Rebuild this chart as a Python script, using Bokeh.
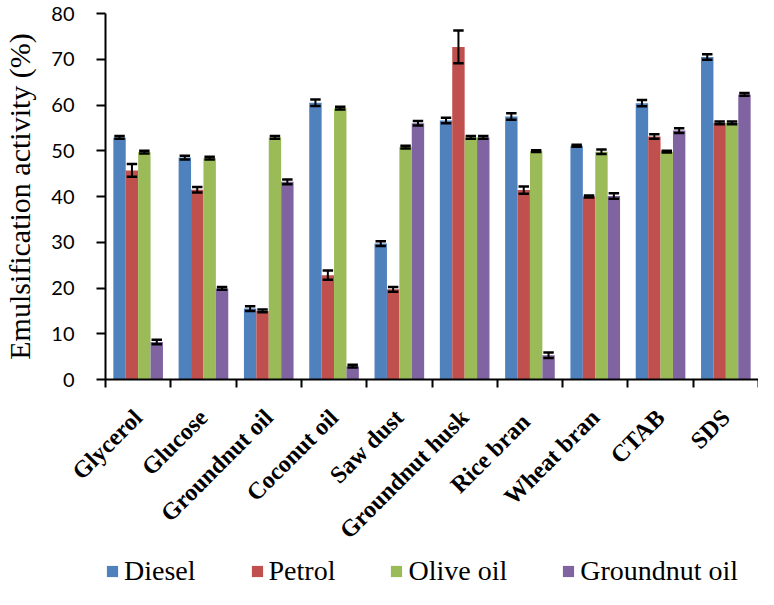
import numpy as np
from bokeh.plotting import figure
from bokeh.layouts import column
from bokeh.models import Range1d, FixedTicker, Legend, LegendItem
from bokeh.embed import file_html
from bokeh.resources import INLINE

categories = ["Glycerol", "Glucose", "Groundnut oil", "Coconut oil", "Saw dust",
              "Groundnut husk", "Rice  bran", "Wheat bran", "CTAB", "SDS"]
series = ["Diesel", "Petrol", "Olive oil", "Groundnut oil"]
colors = ["#4F81BD", "#C0504D", "#9BBB59", "#8064A2"]

diesel = [52.9, 48.5, 15.5, 60.5, 29.7, 56.6, 57.5, 51.1, 60.4, 70.5]
petrol = [45.7, 41.5, 15.0, 22.8, 19.7, 72.7, 41.4, 40.0, 53.1, 56.1]
olive = [49.7, 48.4, 52.9, 59.3, 50.8, 52.9, 49.9, 49.8, 49.8, 56.1]
groundnut = [8.2, 19.9, 43.2, 2.9, 56.0, 52.9, 5.3, 40.1, 54.4, 62.3]

err_diesel = [0.3, 0.4, 0.5, 0.7, 0.5, 0.6, 0.7, 0.2, 0.7, 0.6]
err_petrol = [1.4, 0.6, 0.3, 1.0, 0.5, 3.6, 0.8, 0.2, 0.5, 0.3]
err_olive = [0.3, 0.3, 0.3, 0.3, 0.3, 0.3, 0.2, 0.5, 0.2, 0.3]
err_groundnut = [0.5, 0.3, 0.5, 0.3, 0.5, 0.3, 0.6, 0.6, 0.5, 0.3]

y_ticks = [0, 10, 20, 30, 40, 50, 60, 70, 80]

values = [diesel, petrol, olive, groundnut]
errors = [err_diesel, err_petrol, err_olive, err_groundnut]
offsets = [-0.285, -0.095, 0.095, 0.285]
bar_w = 0.19
cap_half = 0.08

n = len(categories)
centers = [i + 0.5 for i in range(n)]

W = 758
H_LEG = 34
H_MAIN = 589 - H_LEG

p = figure(width=W, height=H_MAIN, x_range=Range1d(0, n), y_range=Range1d(0, 80),
           output_backend="svg", toolbar_location=None,
           min_border_left=91, min_border_right=0, min_border_top=13, min_border_bottom=0)
p.outline_line_color = None
p.xgrid.grid_line_color = None
p.ygrid.grid_line_color = None

for vals, errs, off, col in zip(values, errors, offsets, colors):
    xs = np.array(centers) + off
    v = np.array(vals)
    e = np.array(errs)
    p.vbar(x=xs, top=v, width=bar_w, bottom=0, fill_color=col, line_color=None)
    p.segment(x0=xs, x1=xs, y0=v - e, y1=v + e, line_color="black", line_width=2)
    p.segment(x0=xs - cap_half, x1=xs + cap_half, y0=v + e, y1=v + e, line_color="black", line_width=2.5)
    p.segment(x0=xs - cap_half, x1=xs + cap_half, y0=v - e, y1=v - e, line_color="black", line_width=2.5)

# x axis: labels at category centres, tick marks at category boundaries
xa = p.xaxis[0]
xa.ticker = FixedTicker(ticks=centers, minor_ticks=list(range(n + 1)))
xa.major_label_overrides = {c: name for c, name in zip(centers, categories)}
xa.major_label_orientation = np.pi / 4
xa.major_tick_out = 0
xa.major_tick_in = 0
xa.minor_tick_out = 8
xa.minor_tick_in = 0
xa.minor_tick_line_width = 2
xa.minor_tick_line_color = "black"
xa.axis_line_width = 2
xa.axis_line_color = "black"
xa.major_label_standoff = 26
xa.major_label_text_font = "Liberation Serif"
xa.major_label_text_font_style = "bold"
xa.major_label_text_font_size = "24px"
xa.major_label_text_color = "black"

# y axis
ya = p.yaxis[0]
ya.ticker = FixedTicker(ticks=y_ticks, minor_ticks=[])
ya.major_tick_out = 9
ya.major_tick_in = 0
ya.major_tick_line_width = 2
ya.axis_line_width = 2
ya.axis_line_color = "black"
ya.major_tick_line_color = "black"
ya.major_label_standoff = 22
ya.major_label_text_font = "Lato"
ya.major_label_text_font_size = "20px"
ya.major_label_text_color = "black"
ya.axis_label = "Emulsification activity (%)"
ya.axis_label_text_font = "Liberation Serif"
ya.axis_label_text_font_style = "normal"
ya.axis_label_text_font_size = "30px"
ya.axis_label_text_color = "black"
ya.axis_label_standoff = 12

# legend strip
pl = figure(width=W, height=H_LEG, x_range=Range1d(0, n), y_range=Range1d(0, 80),
            output_backend="svg", toolbar_location=None, x_axis_location=None, y_axis_location=None,
            min_border_left=91, min_border_right=0, min_border_top=0, min_border_bottom=0)
pl.outline_line_color = None
pl.xgrid.grid_line_color = None
pl.ygrid.grid_line_color = None

leg_renderers = []
for vals, off, col in zip(values, offsets, colors):
    r = pl.vbar(x=np.array(centers) + off, top=vals, width=bar_w, fill_color=col, line_color=None)
    r.visible = False
    leg_renderers.append(r)

legend = Legend(items=[LegendItem(label=s, renderers=[r]) for s, r in zip(series, leg_renderers)],
                orientation="horizontal", location="top_left",
                glyph_width=14, glyph_height=14, label_standoff=5, spacing=54,
                padding=0, margin=0, border_line_color=None, background_fill_alpha=0,
                inactive_fill_alpha=0,
                label_text_font="Liberation Serif", label_text_font_size="28px",
                label_text_color="black")
pl.add_layout(legend)

layout = column(p, pl, spacing=0)
open("out.html", "w").write(file_html(layout, INLINE))
